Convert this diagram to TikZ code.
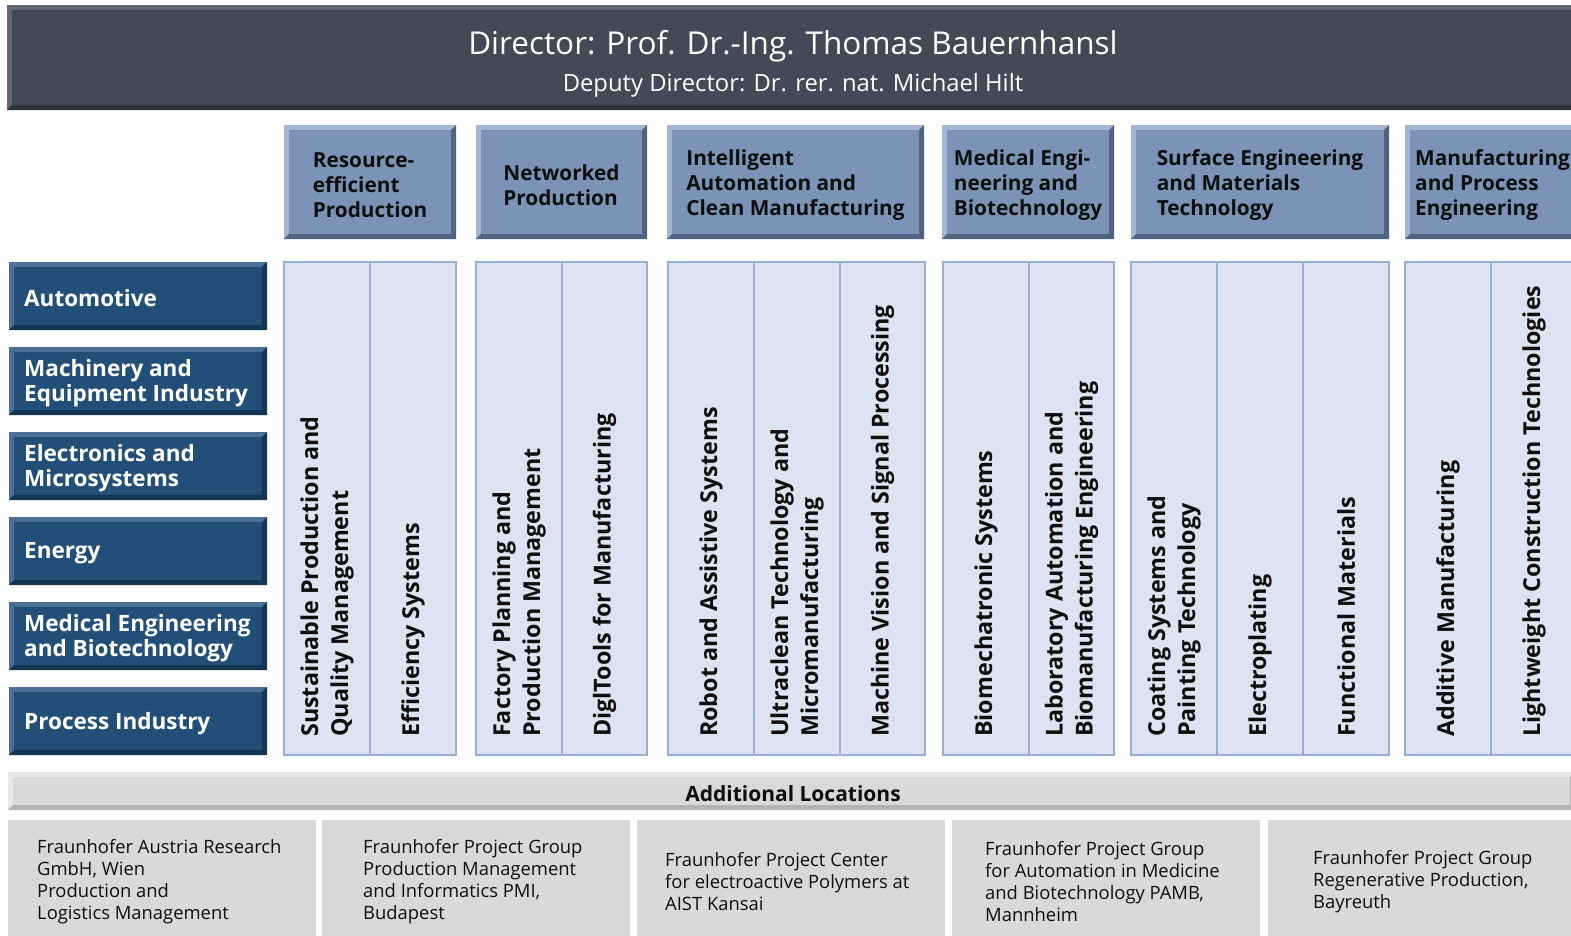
\documentclass[tikz,border=0pt]{standalone}
\usepackage{fontspec}
\setmainfont{Open Sans}
\definecolor{topbar}{RGB}{65,74,86}
\definecolor{topbarL}{RGB}{95,105,117}
\definecolor{topbarD}{RGB}{45,52,62}
\definecolor{hdrfill}{RGB}{123,147,183}
\definecolor{hdrL}{RGB}{165,182,208}
\definecolor{hdrD}{RGB}{80,100,130}
\definecolor{indfill}{RGB}{33,79,120}
\definecolor{indL}{RGB}{75,112,150}
\definecolor{indD}{RGB}{20,52,84}
\definecolor{colfill}{RGB}{220,228,241}
\definecolor{colline}{RGB}{150,176,212}
\definecolor{grayfill}{RGB}{217,217,218}
\definecolor{grayL}{RGB}{232,232,233}
\definecolor{grayD}{RGB}{180,180,182}
\definecolor{txt}{RGB}{15,15,15}
\tikzset{
  bevel/.style n args={3}{fill=#1, path picture={
    \fill[#2] (path picture bounding box.north west) -- (path picture bounding box.north east)
      -- ([xshift=-5pt,yshift=-5pt]path picture bounding box.north east)
      -- ([xshift=5pt,yshift=-5pt]path picture bounding box.north west)
      -- ([xshift=5pt,yshift=5pt]path picture bounding box.south west)
      -- (path picture bounding box.south west) -- cycle;
    \fill[#3] (path picture bounding box.south east) -- (path picture bounding box.north east)
      -- ([xshift=-5pt,yshift=-5pt]path picture bounding box.north east)
      -- ([xshift=-5pt,yshift=5pt]path picture bounding box.south east)
      -- ([xshift=5pt,yshift=5pt]path picture bounding box.south west)
      -- (path picture bounding box.south west) -- cycle;
    \fill[#1] ([xshift=5pt,yshift=-5pt]path picture bounding box.north west) rectangle ([xshift=-5pt,yshift=5pt]path picture bounding box.south east);
  }},
  box/.style={rectangle, inner sep=0pt, minimum width=#1},
  hdr/.style={box=#1, minimum height=114pt, bevel={hdrfill}{hdrL}{hdrD}},
  hdrtext/.style={inner sep=0pt, align=left, text=txt,
    font=\fontsize{20.8}{25}\selectfont\bfseries},
  ind/.style={box=258pt, minimum height=68pt, bevel={indfill}{indL}{indD}},
  indtext/.style={inner sep=0pt, text=white, anchor=west, align=left,
    font=\fontsize{22.5}{25}\selectfont\bfseries},
  col/.style={box=#1, minimum height=493pt, fill=colfill, draw=colline, line width=1.6pt},
  rot/.style={rotate=90, anchor=west, align=left, inner sep=0pt, text=txt,
    font=\fontsize{23.3}{30}\selectfont\bfseries},
  loc/.style={box=#1, minimum height=120pt, fill=grayfill},
  loctext/.style={anchor=west, align=left, inner sep=0pt, text=txt,
    font=\fontsize{18.4}{22}\selectfont},
  lbl/.style={inner sep=0pt, text=#1},
}
\begin{document}
\begin{tikzpicture}[x=1pt,y=-1pt]
\useasboundingbox[fill=white] (0,0) rectangle (1571,935);
% top bar
\node[box=1575pt, minimum height=105pt, bevel={topbar}{topbarL}{topbarD}] (top) at (794.5,57.5) {};
\node[lbl=white, font=\fontsize{31.5}{34}\selectfont] (dir) at (793,46) {Director: Prof. Dr.-Ing. Thomas Bauernhansl};
\node[lbl=white, font=\fontsize{23.8}{26}\selectfont] (dep) at (793,85) {Deputy Director: Dr. rer. nat. Michael Hilt};
% header boxes
\node[hdr=172pt] (h1) at (370,182) {};
\node[hdr=171pt] (h2) at (561.5,182) {};
\node[hdr=257pt] (h3) at (795.5,182) {};
\node[hdr=172pt] (h4) at (1028,182) {};
\node[hdr=258pt] (h5) at (1260,182) {};
\node[hdr=172pt] (h6) at (1491,182) {};
\node[hdrtext] (h1t) at (370,185) {Resource-\\efficient\\Production};
\node[hdrtext] (h2t) at (561.5,185) {Networked\\Production};
\node[hdrtext] (h3t) at (795.5,185) {Intelligent\\Automation and\\Clean Manufacturing};
\node[hdrtext] (h4t) at (1028,185) {Medical Engi-\\neering and\\Biotechnology};
\node[hdrtext] (h5t) at (1260,185) {Surface Engineering\\and Materials\\Technology};
\node[hdrtext, anchor=west] (h6t) at (1415,185) {Manufacturing\\and Process\\Engineering};
% industry boxes
\foreach \n/\y/\t in {i1/296/Automotive, i2/381/{Machinery and\\Equipment Industry}, i3/466/{Electronics and\\Microsystems}, i4/551/Energy, i5/636/{Medical Engineering\\and Biotechnology}, i6/721/Process Industry}{
  \node[ind] (\n) at (138,\y) {};
  \node[indtext] (\n t) at (24,\y+2.5) {\t};
}
% columns
\foreach \n/\a/\b in {c11/284/370, c12/370/456, c21/476/562, c22/562/647, c31/668/754, c32/754/840, c33/840/925, c41/943/1029, c42/1029/1114, c51/1131/1217, c52/1217/1303, c53/1303/1389, c61/1405/1491, c62/1491/1577}{
  \pgfmathsetmacro{\w}{\b-\a}
  \pgfmathsetmacro{\m}{(\a+\b)/2}
  \node[col=\w pt] (\n) at (\m,508.5) {};
}
\node[rot] (t11) at (c11.center |- 0,737) {Sustainable Production and\\Quality Management};
\node[rot] (t12) at (c12.center |- 0,737) {Efficiency Systems};
\node[rot] (t21) at (c21.center |- 0,737) {Factory Planning and\\Production Management};
\node[rot] (t22) at (c22.center |- 0,737) {DiglTools for Manufacturing};
\node[rot] (t31) at (c31.center |- 0,737) {Robot and Assistive Systems};
\node[rot] (t32) at (c32.center |- 0,737) {Ultraclean Technology and\\Micromanufacturing};
\node[rot] (t33) at (c33.center |- 0,737) {Machine Vision and Signal Processing};
\node[rot] (t41) at (c41.center |- 0,737) {Biomechatronic Systems};
\node[rot] (t42) at (c42.center |- 0,737) {Laboratory Automation and\\Biomanufacturing Engineering};
\node[rot] (t51) at (c51.center |- 0,737) {Coating Systems and\\Painting Technology};
\node[rot] (t52) at (c52.center |- 0,737) {Electroplating};
\node[rot] (t53) at (c53.center |- 0,737) {Functional Materials};
\node[rot] (t61) at (1448,737) {Additive Manufacturing};
\node[rot] (t62) at (1534,737) {Lightweight Construction Technologies};
% additional locations
\node[box=1567pt, minimum height=38pt, bevel={grayfill}{grayL}{grayD}] (add) at (791.5,791) {};
\node[lbl=txt, font=\fontsize{21}{24}\selectfont\bfseries] (addt) at (793,794) {Additional Locations};
\node[loc=308pt] (l1) at (162,880) {};
\node[loc=308pt] (l2) at (476,880) {};
\node[loc=308pt] (l3) at (791,880) {};
\node[loc=308pt] (l4) at (1106,880) {};
\node[loc=310pt] (l5) at (1423,880) {};
\node[loctext] (l1t) at (37,882) {Fraunhofer Austria Research\\GmbH, Wien\\Production and\\Logistics Management};
\node[loctext] (l2t) at (363,882) {Fraunhofer Project Group\\Production Management\\and Informatics PMI,\\Budapest};
\node[loctext] (l3t) at (665,882) {Fraunhofer Project Center\\for electroactive Polymers at\\AIST Kansai};
\node[loctext] (l4t) at (985,882) {Fraunhofer Project Group\\for Automation in Medicine\\and Biotechnology PAMB,\\Mannheim};
\node[loctext] (l5t) at (1313,882) {Fraunhofer Project Group\\Regenerative Production,\\Bayreuth};
\end{tikzpicture}
\end{document}
